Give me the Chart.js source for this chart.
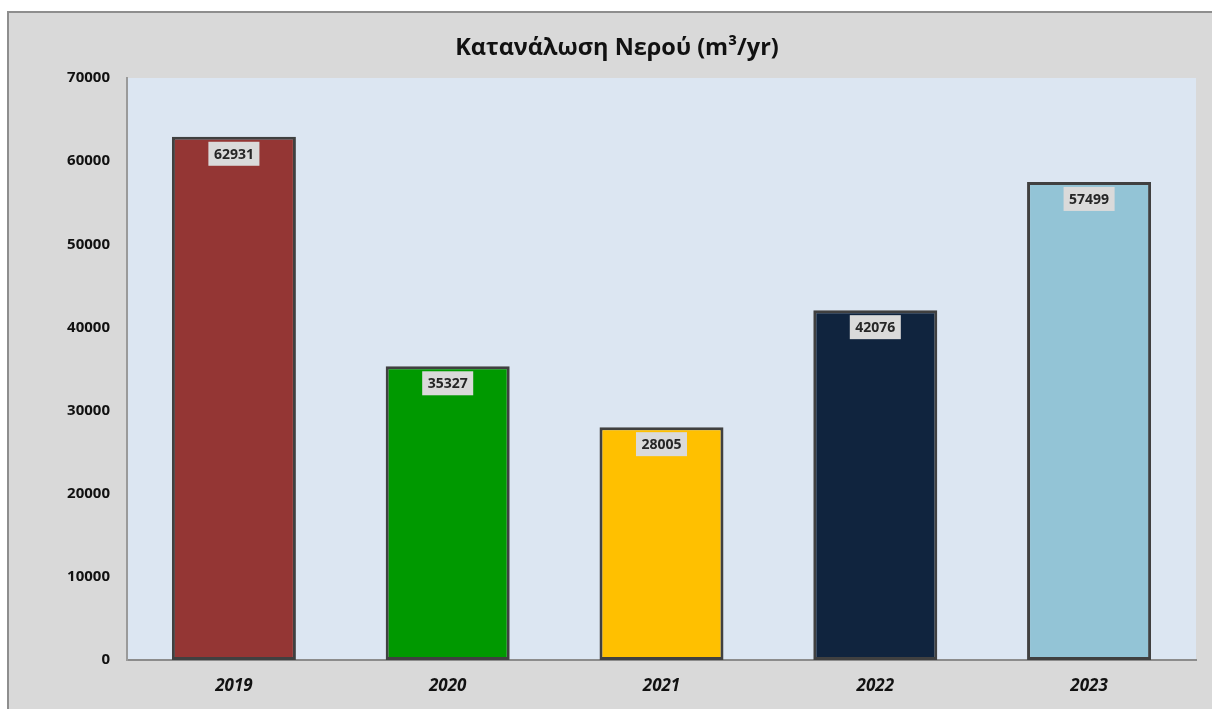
<!DOCTYPE html>
<html>
<head>
<meta charset="utf-8">
<script src="https://cdn.jsdelivr.net/npm/chart.js@4.4.1/dist/chart.umd.min.js"></script>
<style>
    html, body { margin: 0; padding: 0; background: #ffffff; overflow: hidden; }
    #frame {
        position: absolute; left: 7px; top: 11px;
        width: 1216px; height: 700px;
        border-left: 2px solid #8e8e8e; border-top: 2px solid #8e8e8e;
        background: #d9d9d9;
    }
</style>
</head>
<body>
<div id="frame"><canvas id="waterChart" width="1216" height="700"></canvas></div>
<script>
const years = ['2019', '2020', '2021', '2022', '2023'];
const consumption = [62931, 35327, 28005, 42076, 57499];
const barColors = ['#943634', '#009900', '#ffc000', '#10243e', '#93c4d6'];
const yTicks = [0, 10000, 20000, 30000, 40000, 50000, 60000, 70000];
const chartTitle = 'Κατανάλωση Νερού (m³/yr)';

const fontFamily = '"Open Sans", "Noto Sans", sans-serif';

// light blue plot area behind the bars
const plotBackground = {
    id: 'plotBackground',
    beforeDraw(chart) {
        const { ctx, chartArea } = chart;
        ctx.save();
        ctx.fillStyle = '#dce6f2';
        ctx.fillRect(chartArea.left, chartArea.top, chartArea.right - chartArea.left, chartArea.bottom - chartArea.top);
        ctx.restore();
    }
};

// title centred on the whole frame, not on the padded area
const frameTitle = {
    id: 'frameTitle',
    afterDraw(chart) {
        const { ctx } = chart;
        ctx.save();
        ctx.font = 'bold 23.5px ' + fontFamily;
        ctx.fillStyle = '#111';
        ctx.textAlign = 'center';
        ctx.textBaseline = 'middle';
        ctx.fillText(chartTitle, chart.width / 2, 35);
        ctx.restore();
    }
};

// value labels in a grey box just under the top of each bar
const valueLabels = {
    id: 'valueLabels',
    afterDatasetsDraw(chart) {
        const { ctx } = chart;
        const meta = chart.getDatasetMeta(0);
        ctx.save();
        ctx.font = 'bold 14px ' + fontFamily;
        ctx.textAlign = 'center';
        ctx.textBaseline = 'middle';
        meta.data.forEach((bar, i) => {
            const text = String(chart.data.datasets[0].data[i]);
            const w = ctx.measureText(text).width + 11;
            const h = 24;
            const top = bar.y + 5;
            ctx.fillStyle = '#dadada';
            ctx.fillRect(bar.x - w / 2, top, w, h);
            ctx.fillStyle = '#262626';
            ctx.fillText(text, bar.x, top + h / 2 + 1);
        });
        ctx.restore();
    }
};

new Chart(document.getElementById('waterChart').getContext('2d'), {
    type: 'bar',
    data: {
        labels: years,
        datasets: [{
            data: consumption,
            backgroundColor: barColors,
            borderColor: '#404040',
            borderWidth: 3,
            borderSkipped: false,
            categoryPercentage: 1,
            barPercentage: 0.58
        }]
    },
    options: {
        responsive: false,
        animation: false,
        layout: { padding: { left: 0, right: 29, top: 65, bottom: 0 } },
        scales: {
            x: {
                grid: { display: false, drawTicks: false },
                border: { display: true, color: '#8c8c8c', width: 2 },
                ticks: {
                    color: '#111',
                    padding: 16,
                    font: { family: fontFamily, size: 17, weight: 'bold', style: 'italic' }
                },
                afterFit(scale) { scale.height = 53; }
            },
            y: {
                min: 0,
                max: 70000,
                afterBuildTicks(scale) { scale.ticks = yTicks.map(v => ({ value: v })); },
                grid: { display: false, drawTicks: false },
                border: { display: true, color: '#9a9a9a', width: 2 },
                ticks: {
                    color: '#111',
                    padding: 17,
                    font: { family: fontFamily, size: 15, weight: 'bold' },
                    callback: (value) => String(value)
                },
                afterFit(scale) { scale.width = 118; }
            }
        },
        plugins: {
            legend: { display: false },
            tooltip: { enabled: false },
            title: { display: false }
        }
    },
    plugins: [plotBackground, valueLabels, frameTitle]
});
</script>
</body>
</html>
